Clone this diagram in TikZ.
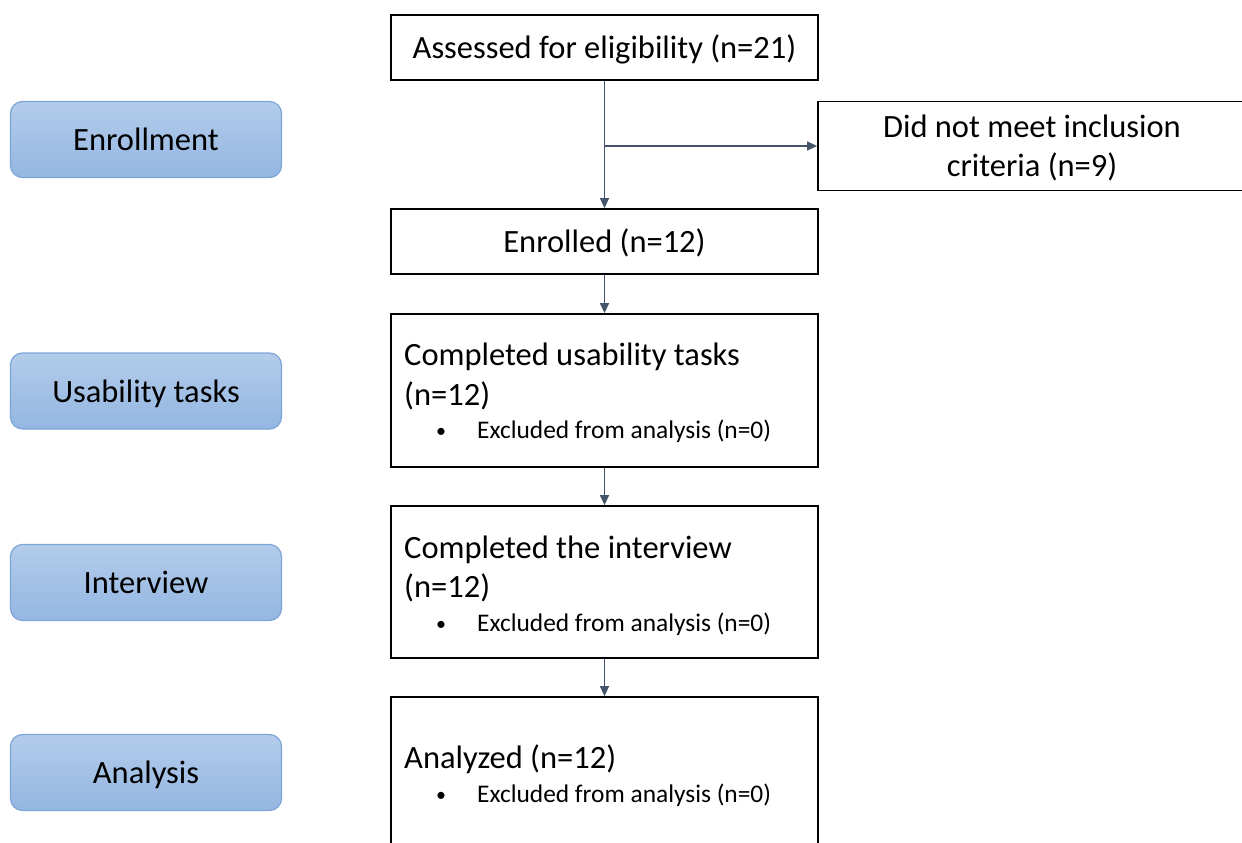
\documentclass[tikz,border=0pt]{standalone}
\usepackage{fontspec}
\setmainfont{Carlito}
\usetikzlibrary{arrows.meta}
\definecolor{arrowc}{HTML}{44546A}
\definecolor{stagetop}{HTML}{B3CCEA}
\definecolor{stagebot}{HTML}{94B6E2}
\definecolor{stageline}{HTML}{7DA5D8}
\tikzset{
  flowbox/.style={draw=black, line width=1.8pt, minimum width=427pt, inner sep=0pt, font=\fontsize{32.5}{39}\selectfont, text height=22pt, text depth=0pt},
  stagebox/.style={draw=stageline, line width=1.2pt, rounded corners=12pt, top color=stagetop, bottom color=stagebot, minimum width=271pt, minimum height=76pt, inner sep=0pt, font=\fontsize{32.5}{39}\selectfont, text height=22pt, text depth=0pt},
  bigtxt/.style={anchor=base west, inner sep=0pt, font=\fontsize{32.5}{39}\selectfont},
  smalltxt/.style={anchor=base west, inner sep=0pt, font=\fontsize{25.4}{30}\selectfont},
  bullettxt/.style={anchor=base, inner sep=0pt, font=\fontsize{20}{24}\selectfont},
  flowarrow/.style={draw=arrowc, line width=1.3pt, -{Triangle[length=10pt,width=9pt]}},
}
\begin{document}
\begin{tikzpicture}[x=1pt,y=-1pt]
\clip (0,0) rectangle (1242,843);
\fill[white] (0,0) rectangle (1242,843);
% stage boxes
\node[stagebox] (s1) at (146,139.5) {Enrollment};
\node[stagebox] (s2) at (146,391) {Usability tasks};
\node[stagebox] (s3) at (146,582.5) {Interview};
\node[stagebox] (s4) at (146,772.5) {Analysis};
% flow boxes
\node[flowbox, minimum height=65pt] (a) at (604.5,47.5) {Assessed for eligibility (n=21)};
\node[flowbox, minimum width=428pt, minimum height=89pt] (nm) at (1032,146) {};
\node[bigtxt, anchor=base] (nm1) at (1032,137.5) {Did not meet inclusion};
\node[bigtxt, anchor=base] (nm2) at (1032,176.5) {criteria (n=9)};
\node[flowbox, minimum height=65pt] (en) at (604.5,241.5) {Enrolled (n=12)};
\node[flowbox, minimum height=153pt] (us) at (604.5,390.5) {};
\node[bigtxt] (us1) at (404,365) {Completed usability tasks};
\node[bigtxt] (us2) at (404,405) {(n=12)};
\node[bullettxt] (usb) at (441,437) {•};
\node[smalltxt] (us3) at (477,438) {Excluded from analysis (n=0)};
\node[flowbox, minimum height=152pt] (iv) at (604.5,582) {};
\node[bigtxt] (iv1) at (404,558) {Completed the interview};
\node[bigtxt] (iv2) at (404,597) {(n=12)};
\node[bullettxt] (ivb) at (441,630) {•};
\node[smalltxt] (iv3) at (477,631) {Excluded from analysis (n=0)};
\node[flowbox, minimum height=203pt] (an) at (604.5,798.5) {};
\node[bigtxt] (an1) at (404,768) {Analyzed (n=12)};
\node[bullettxt] (anb) at (441,801) {•};
\node[smalltxt] (an3) at (477,802) {Excluded from analysis (n=0)};
% connectors
\coordinate (br) at (a.south |- nm.west);
\draw[flowarrow] (a.south) -- (en.north);
\draw[flowarrow] (br) -- (nm.west);
\draw[flowarrow] (en.south) -- (us.north);
\draw[flowarrow] (us.south) -- (iv.north);
\draw[flowarrow] (iv.south) -- (an.north);
\end{tikzpicture}
\end{document}
